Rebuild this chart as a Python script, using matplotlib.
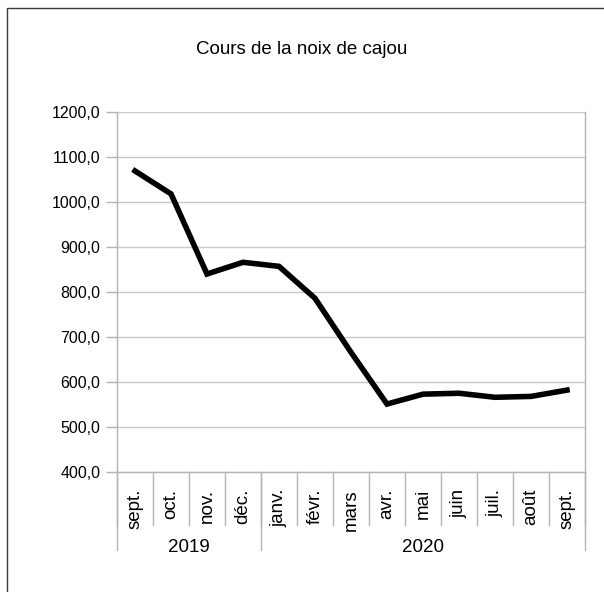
import matplotlib
matplotlib.use("Agg")
import matplotlib.pyplot as plt
from matplotlib.patches import Rectangle
from matplotlib.ticker import FuncFormatter

plt.rcParams['font.family'] = ['Liberation Sans', 'DejaVu Sans']

title = "Cours de la noix de cajou"
months = ["sept.", "oct.", "nov.", "déc.", "janv.", "févr.", "mars",
          "avr.", "mai", "juin", "juil.", "août", "sept."]
years = ["2019", "2020"]
year_counts = [4, 9]
prices = [1069, 1018, 840, 866, 857, 786, 666, 551, 573, 575, 566, 568, 582]
y_ticks = [400, 500, 600, 700, 800, 900, 1000, 1100, 1200]

W, H = 604, 592
fig = plt.figure(figsize=(W / 100, H / 100), dpi=100)

# outer frame (top and left visible, extends past right/bottom)
fig.patches.append(Rectangle((7 / W, -0.1), 1.2, (H - 8) / H + 0.1,
                             transform=fig.transFigure, fill=False,
                             edgecolor='#3a3a3a', linewidth=1.0))

ax_l, ax_r, ax_t, ax_b = 117, 585, 112, 472
ax = fig.add_axes([ax_l / W, (H - ax_b) / H, (ax_r - ax_l) / W, (ax_b - ax_t) / H])

grey = '#b3b3b3'
x = list(range(len(months)))
ax.plot(x, prices, color='black', linewidth=4, solid_joinstyle='miter', zorder=3)

ax.set_xlim(-0.5, len(months) - 0.5)
ax.set_ylim(y_ticks[0], y_ticks[-1])
ax.set_yticks(y_ticks)
ax.yaxis.set_major_formatter(FuncFormatter(lambda v, p: f"{v:.1f}".replace('.', ',')))
ax.yaxis.grid(True, color='#c8c8c8', linewidth=1.0)
ax.set_axisbelow(True)
ax.tick_params(axis='y', length=8, width=1, color=grey, pad=4, labelsize=11.5, labelcolor='black')
ax.set_xticks([])
for s in ['top']:
    ax.spines[s].set_visible(False)
for s in ['left', 'right', 'bottom']:
    ax.spines[s].set_color(grey)
    ax.spines[s].set_linewidth(1.0)

tr = ax.get_xaxis_transform()
ph = ax_b - ax_t
def yfrac(py):
    return (ax_b - py) / ph

# month separators and labels
for k in range(len(months) + 1):
    ax.plot([k - 0.5, k - 0.5], [0, yfrac(525)], transform=tr, color=grey,
            linewidth=1.0, clip_on=False)
for i, m in enumerate(months):
    ax.text(i, yfrac(489), m, transform=tr, rotation=90, ha='center', va='top',
            fontsize=13.5)

# year separators and labels
start = 0
bounds = [0]
for c in year_counts:
    start += c
    bounds.append(start)
for b in bounds:
    ax.plot([b - 0.5, b - 0.5], [0, yfrac(550)], transform=tr, color=grey,
            linewidth=1.0, clip_on=False)
for yname, a, b in zip(years, bounds[:-1], bounds[1:]):
    ax.text((a + b - 1) / 2, yfrac(547), yname, transform=tr, ha='center',
            va='center', fontsize=13.5)

fig.text(302 / W, 1 - 49 / H, title, ha='center', va='center', fontsize=13.5)

fig.savefig("out.png", dpi=100)
